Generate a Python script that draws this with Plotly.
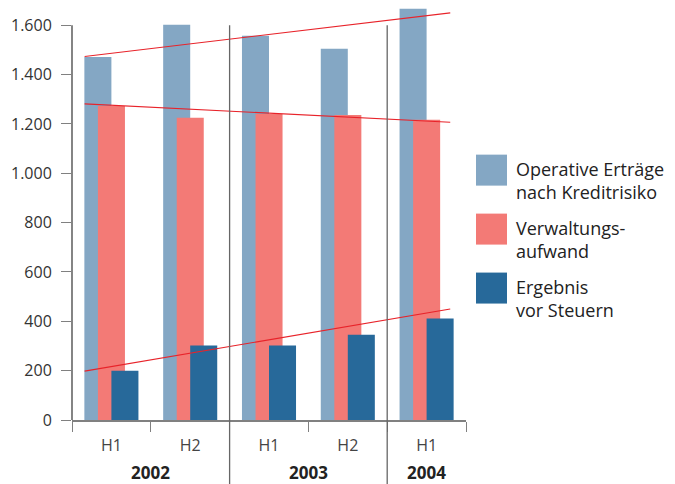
import plotly.graph_objects as go

# ---------------- data ----------------
halves = ["H1", "H2", "H1", "H2", "H1"]
years = ["2002", "2002", "2003", "2003", "2004"]
series_names = ["Operative Erträge<br>nach Kreditrisiko", "Verwaltungs-<br>aufwand", "Ergebnis<br>vor Steuern"]
operative = [1471, 1602, 1557, 1505, 1667]
verwaltung = [1273, 1225, 1240, 1236, 1217]
ergebnis = [200, 302, 302, 346, 411]
trend_operative = [1473, 1650]
trend_verwaltung = [1281, 1207]
trend_ergebnis = [198, 450]
y_ticks = [0, 200, 400, 600, 800, 1000, 1200, 1400, 1600]

# ---------------- style ----------------
colors = ["#84A7C4", "#F37A76", "#27699A"]
red = "#E8232A"
font = "Open Sans"
W, H = 675, 484
y_top_val = 1690
zero_px, top_tick_px = 420.5, 25.5
scale = (zero_px - top_tick_px) / y_ticks[-1]
L, R = 72, 209
T = zero_px - y_top_val * scale
B = H - zero_px
plot_h = H - T - B
plot_w = W - L - R

bar_w = 0.343
offsets = [-0.343, -0.171, 0.0]

x_idx = list(range(len(halves)))


def px_x(p):
    return (p - L) / plot_w


def px_y(p):
    return (T + plot_h - p) / plot_h


fig = go.Figure()
for vals, col, off, nm in zip([operative, verwaltung, ergebnis], colors, offsets, series_names):
    fig.add_trace(go.Bar(x=x_idx, y=vals, width=bar_w, offset=off, marker_color=col,
                         marker_line_width=0, name=nm, showlegend=False))

tx = [x_idx[0] - 0.34, x_idx[-1] + 0.30]
for tv in [trend_operative, trend_verwaltung, trend_ergebnis]:
    fig.add_trace(go.Scatter(x=tx, y=tv, mode="lines", line=dict(color=red, width=1.1),
                             showlegend=False, hoverinfo="skip"))

# y axis line (only up to the last tick)
fig.add_shape(type="line", xref="paper", yref="paper", x0=0, x1=0,
              y0=0, y1=px_y(top_tick_px), line=dict(color="#333333", width=1.2))

# group separators between years
for i in range(1, len(years)):
    if years[i] != years[i - 1]:
        fig.add_shape(type="line", xref="x", yref="paper", x0=i - 0.5, x1=i - 0.5,
                      y0=px_y(top_tick_px), y1=px_y(H + 2), line=dict(color="#666666", width=1.3))

# year labels
groups = {}
for i, yv in enumerate(years):
    groups.setdefault(yv, []).append(i)
for yv, idx in groups.items():
    fig.add_annotation(x=sum(idx) / len(idx), y=px_y(473.5), xref="x", yref="paper",
                       text="<b>%s</b>" % yv, showarrow=False, borderpad=0,
                       font=dict(family=font, size=17, color="#222222"),
                       xanchor="center", yanchor="middle")

# custom legend
leg_tops = [155, 214, 273]
for top, col, nm in zip(leg_tops, colors, series_names):
    fig.add_shape(type="rect", xref="paper", yref="paper", x0=px_x(476), x1=px_x(507),
                  y0=px_y(top + 31), y1=px_y(top), fillcolor=col, line_width=0)
    fig.add_annotation(xref="paper", yref="paper", x=px_x(514), y=px_y(top + 26), text=nm,
                       showarrow=False, xanchor="left", yanchor="middle", align="left",
                       font=dict(family=font, size=18, color="#222222"))

fig.update_layout(
    width=W, height=H, margin=dict(l=L, r=R, t=T, b=B, pad=0),
    paper_bgcolor="white", plot_bgcolor="white",
    barmode="overlay", separators=",.", showlegend=False,
    font=dict(family=font, size=16, color="#333333"),
    xaxis=dict(range=[-0.5, len(halves) - 0.5], tickmode="array", tickvals=x_idx, ticktext=halves,
               ticks="outside", ticklen=0, showgrid=False, zeroline=False,
               showline=True, linecolor="#808080", linewidth=1.6,
               tickfont=dict(family=font, size=16, color="#444444"), ticklabelstandoff=10,
               minor=dict(tickmode="array", tickvals=[i - 0.5 for i in range(len(halves) + 1)],
                          ticks="outside", ticklen=10, tickcolor="#808080", tickwidth=1.3)),
    yaxis=dict(range=[0, y_top_val], tickmode="array", tickvals=y_ticks, tickformat=",d",
               ticks="outside", ticklen=10, tickcolor="#808080", tickwidth=1.3,
               showgrid=False, zeroline=False, showline=False,
               tickfont=dict(family=font, size=16, color="#333333"), ticklabelstandoff=6),
)

fig.write_html("out.html", config={"displayModeBar": False},
               post_script="document.body.style.margin='0';document.body.style.padding='0';")
